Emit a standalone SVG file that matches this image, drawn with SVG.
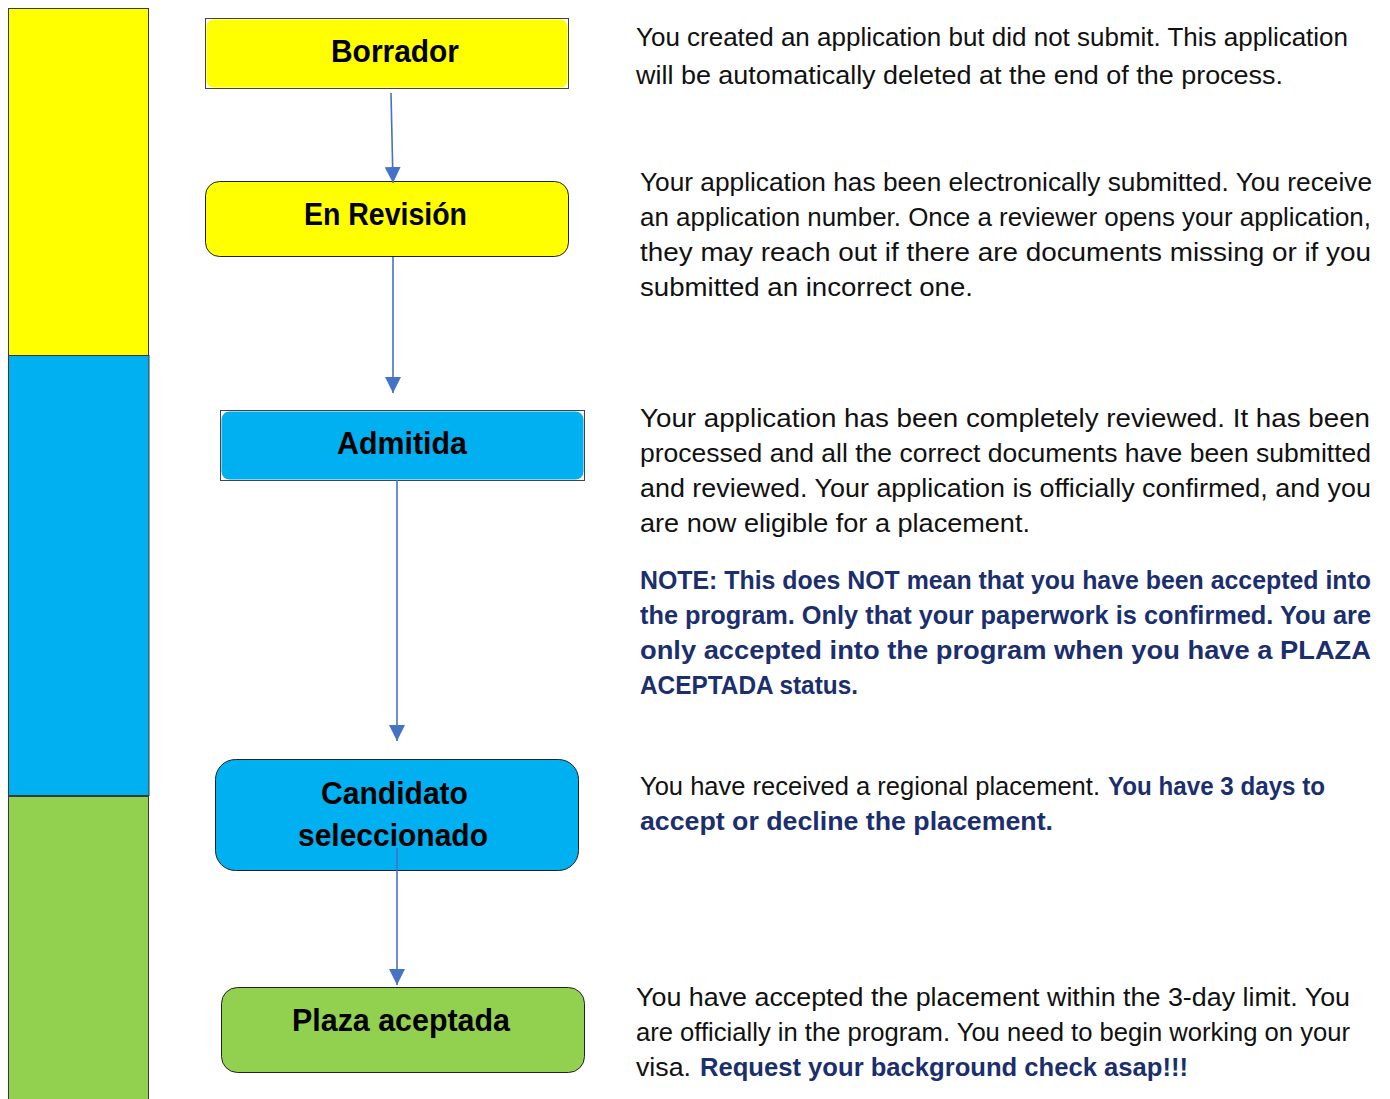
<svg xmlns="http://www.w3.org/2000/svg" width="1390" height="1099" viewBox="0 0 1390 1099">
<defs>
<style>
.bar{stroke:#3a3a3a;stroke-width:1}
.lbl{font-family:"Liberation Sans",Arial,sans-serif;font-weight:bold;font-size:31px;fill:#000;text-anchor:start}
.t{font-family:"Liberation Sans",Arial,sans-serif;font-size:25px;fill:#111}
.b{font-weight:bold;fill:#1b2f6e}
.conn{stroke:#4472C4;stroke-width:1.6;fill:none;marker-end:url(#ah)}
</style>
<marker id="ah" markerUnits="userSpaceOnUse" markerWidth="16" markerHeight="16" viewBox="0 0 16 16" refX="16" refY="8" orient="auto">
<path d="M0,0 L16,8 L0,16 z" fill="#4472C4"/>
</marker>
</defs>
<rect width="1390" height="1099" fill="#fff"/>
<g id="phase-bars">
<rect class="bar" x="8.5" y="8.5" width="140" height="347" fill="#FFFF00"/>
<rect class="bar" x="8.5" y="355.5" width="140.5" height="440" fill="#00B0F0"/>
<rect class="bar" x="8.5" y="796.5" width="140" height="310" fill="#92D050"/>
</g>
<g id="node-borrador">
<rect x="205.5" y="18.5" width="363" height="70" fill="#fff" stroke="#444" stroke-width="1"/>
<rect x="206.5" y="19.5" width="361" height="68" rx="7" fill="#FFFF00"/>
<text class="lbl" x="331" y="62" textLength="128" lengthAdjust="spacingAndGlyphs">Borrador</text>
</g>
<g id="node-revision">
<rect x="205.5" y="181.5" width="363" height="75" rx="14" fill="#FFFF00" stroke="#222" stroke-width="1"/>
<text class="lbl" x="304" y="225" textLength="163" lengthAdjust="spacingAndGlyphs">En Revisión</text>
</g>
<g id="node-admitida">
<rect x="220.5" y="410.5" width="364" height="70" fill="#fff" stroke="#444" stroke-width="1"/>
<rect x="221.5" y="411.5" width="362" height="68" rx="8" fill="#00B0F0"/>
<text class="lbl" x="337" y="454" textLength="130" lengthAdjust="spacingAndGlyphs">Admitida</text>
</g>
<g id="node-candidato">
<rect x="215.5" y="759.5" width="363" height="111" rx="20" fill="#00B0F0" stroke="#222" stroke-width="1"/>
<text class="lbl" x="321" y="804" textLength="147" lengthAdjust="spacingAndGlyphs">Candidato</text>
<text class="lbl" x="298" y="846" textLength="190" lengthAdjust="spacingAndGlyphs">seleccionado</text>
</g>
<g id="node-plaza">
<rect x="221.5" y="987.5" width="363" height="85" rx="16" fill="#92D050" stroke="#222" stroke-width="1"/>
<text class="lbl" x="292" y="1031" textLength="218" lengthAdjust="spacingAndGlyphs">Plaza aceptada</text>
</g>
<g id="connectors">
<path class="conn" d="M391,93 L393,183"/>
<path class="conn" d="M393,257 L393,393"/>
<path class="conn" d="M397,480 L397,741"/>
<path class="conn" d="M397,848 L397,985"/>
</g>
<g id="descriptions">
<text class="t" x="636" y="46" textLength="712" lengthAdjust="spacingAndGlyphs">You created an application but did not submit. This application</text>
<text class="t" x="636" y="84" textLength="647" lengthAdjust="spacingAndGlyphs">will be automatically deleted at the end of the process.</text>

<text class="t" x="640" y="191" textLength="732" lengthAdjust="spacingAndGlyphs">Your application has been electronically submitted. You receive</text>
<text class="t" x="640" y="226" textLength="731" lengthAdjust="spacingAndGlyphs">an application number. Once a reviewer opens your application,</text>
<text class="t" x="640" y="261" textLength="731" lengthAdjust="spacingAndGlyphs">they may reach out if there are documents missing or if you</text>
<text class="t" x="640" y="296" textLength="333" lengthAdjust="spacingAndGlyphs">submitted an incorrect one.</text>

<text class="t" x="640" y="427" textLength="730" lengthAdjust="spacingAndGlyphs">Your application has been completely reviewed. It has been</text>
<text class="t" x="640" y="462" textLength="731" lengthAdjust="spacingAndGlyphs">processed and all the correct documents have been submitted</text>
<text class="t" x="640" y="497" textLength="731" lengthAdjust="spacingAndGlyphs">and reviewed. Your application is officially confirmed, and you</text>
<text class="t" x="640" y="532" textLength="390" lengthAdjust="spacingAndGlyphs">are now eligible for a placement.</text>

<text class="t b" x="640" y="589" textLength="731" lengthAdjust="spacingAndGlyphs">NOTE: This does NOT mean that you have been accepted into</text>
<text class="t b" x="640" y="624" textLength="731" lengthAdjust="spacingAndGlyphs">the program. Only that your paperwork is confirmed. You are</text>
<text class="t b" x="640" y="659" textLength="731" lengthAdjust="spacingAndGlyphs">only accepted into the program when you have a PLAZA</text>
<text class="t b" x="640" y="694" textLength="218" lengthAdjust="spacingAndGlyphs">ACEPTADA status.</text>

<text class="t" x="640" y="795" textLength="460" lengthAdjust="spacingAndGlyphs">You have received a regional placement.</text>
<text class="t b" x="1108" y="795" textLength="217" lengthAdjust="spacingAndGlyphs">You have 3 days to</text>
<text class="t b" x="640" y="830" textLength="413" lengthAdjust="spacingAndGlyphs">accept or decline the placement.</text>

<text class="t" x="636" y="1006" textLength="714" lengthAdjust="spacingAndGlyphs">You have accepted the placement within the 3-day limit. You</text>
<text class="t" x="636" y="1041" textLength="714" lengthAdjust="spacingAndGlyphs">are officially in the program. You need to begin working on your</text>
<text class="t" x="636" y="1076" textLength="55" lengthAdjust="spacingAndGlyphs">visa.</text>
<text class="t b" x="700" y="1076" textLength="488" lengthAdjust="spacingAndGlyphs">Request your background check asap!!!</text>
</g>
</svg>
